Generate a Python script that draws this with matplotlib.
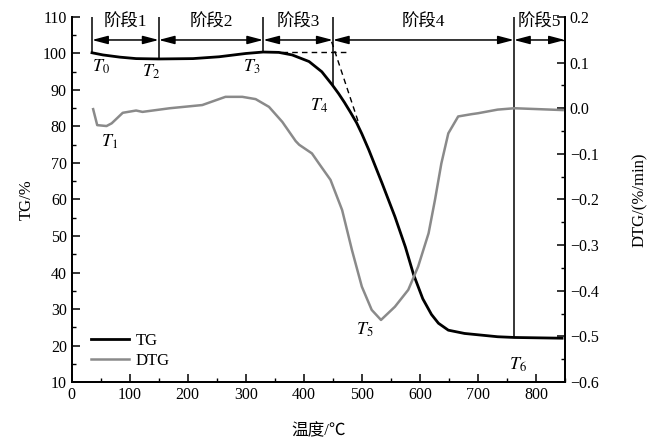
import numpy as np
import matplotlib
matplotlib.use("Agg")
import matplotlib.pyplot as plt
from matplotlib.ticker import MultipleLocator

plt.rcParams['font.family'] = ['Liberation Serif', 'Noto Sans CJK SC']
plt.rcParams['mathtext.fontset'] = 'stix'
plt.rcParams['axes.unicode_minus'] = True

# TG curve (temperature °C, mass %)
tg_temp = [35, 54, 83, 111, 150, 209, 254, 300, 330, 357, 380, 409, 431, 449,
           460, 470, 480, 491, 500, 512, 535, 557, 575, 589, 605, 620, 632, 649, 677, 734, 763, 845]
tg_val = [100.2, 99.6, 99.0, 98.6, 98.5, 98.6, 99.1, 100.0, 100.4, 100.3, 99.6, 97.8, 95.0, 91.4,
          89.0, 86.6, 84.0, 81.0, 78.0, 73.6, 64.4, 55.3, 47.0, 39.5, 32.8, 28.5, 26.1, 24.2,
          23.3, 22.4, 22.2, 22.0]

# DTG curve (temperature °C, %/min)
dtg_temp = [37, 44, 60, 69, 88, 111, 122, 169, 225, 265, 294, 317, 340, 363, 386, 392, 414, 426,
            446, 466, 483, 500, 517, 533, 557, 580, 597, 615, 626, 637, 649, 666, 689, 700,
            734, 763, 846]
dtg_val = [-0.002, -0.037, -0.039, -0.033, -0.010, -0.005, -0.008, 0.000, 0.007, 0.025, 0.025,
           0.020, 0.003, -0.030, -0.072, -0.080, -0.099, -0.121, -0.157, -0.223, -0.311, -0.391,
           -0.442, -0.464, -0.435, -0.398, -0.347, -0.274, -0.201, -0.121, -0.055, -0.018,
           -0.013, -0.011, -0.003, 0.000, -0.004]

# stage boundaries and TG value where the marker line stops
stage_x = [35, 150, 330, 450, 762, 850]
stage_tg = [100.2, 98.5, 100.4, 91.4, 22.2]
stage_names = ['阶段1', '阶段2', '阶段3', '阶段4', '阶段5']

# point labels
pt_names = ['$T_0$', '$T_1$', '$T_2$', '$T_3$', '$T_4$', '$T_5$', '$T_6$']
pt_x = [50, 66, 136, 311, 426, 505, 769]
pt_y = [96.3, 75.8, 94.9, 96.3, 85.6, 24.2, 14.7]

# tangent construction (dashed)
dash_h_x = [362, 472]
dash_h_y = [100.4, 100.4]
dash_s_x = [448, 494]
dash_s_y = [103.2, 81.2]

fig = plt.figure(figsize=(6.6, 4.47), dpi=100)
ax = fig.add_axes([0.1086, 0.1454, 0.7474, 0.8166])
ax2 = ax.twinx()

l1, = ax.plot(tg_temp, tg_val, color='black', lw=2.0, label='TG')
l2, = ax2.plot(dtg_temp, dtg_val, color='#8a8a8a', lw=1.8, label='DTG')

ax.vlines(stage_x[:-1], stage_tg, 110, color='black', lw=1.1)
ax.plot(dash_h_x, dash_h_y, color='black', lw=1.0, ls=(0, (4, 3)))
ax.plot(dash_s_x, dash_s_y, color='black', lw=1.0, ls=(0, (4, 3)))

for i, name in enumerate(stage_names):
    x0, x1 = stage_x[i], stage_x[i + 1]
    ax.annotate('', xy=(x1, 103.7), xytext=(x0, 103.7),
                arrowprops=dict(arrowstyle='<|-|>,head_length=0.95,head_width=0.25',
                                color='black', lw=1.1, shrinkA=0, shrinkB=0,
                                mutation_scale=10))
    ax.text((x0 + x1) / 2, 108.4, name, ha='center', va='center', fontsize=12.5)

for name, x, y in zip(pt_names, pt_x, pt_y):
    ax.text(x, y, name, ha='center', va='center', fontsize=13)

ax.set_xlim(0, 850)
ax.set_ylim(10, 110)
ax2.set_ylim(-0.6, 0.2)

ax.xaxis.set_major_locator(MultipleLocator(100))
ax.xaxis.set_minor_locator(MultipleLocator(50))
ax.yaxis.set_major_locator(MultipleLocator(10))
ax.yaxis.set_minor_locator(MultipleLocator(5))
ax2.yaxis.set_minor_locator(MultipleLocator(0.05))
dtg_ticks = np.round(np.arange(-0.6, 0.21, 0.1), 1)
ax2.set_yticks(dtg_ticks)
ax2.set_yticklabels([('%.1f' % abs(v)) if v >= 0 else '\u2212%.1f' % abs(v) for v in dtg_ticks])

for a in (ax, ax2):
    a.spines['top'].set_visible(False)
    for s in a.spines.values():
        s.set_linewidth(1.3)
    a.tick_params(which='major', direction='in', length=6, width=1.1, labelsize=11.5)
    a.tick_params(which='minor', direction='in', length=3, width=1.0)
ax.tick_params(axis='y', which='both', right=False)
ax.tick_params(axis='x', which='both', top=False)

ax.set_xlabel('温度/℃', fontsize=12, labelpad=15)
ax.set_ylabel('TG/%', fontsize=12, labelpad=6)
ax2.set_ylabel('DTG/(%/min)', fontsize=12, labelpad=24)

ax.legend([l1, l2], ['TG', 'DTG'], loc='lower left', bbox_to_anchor=(0.012, 0.0),
          frameon=False, fontsize=12, handlelength=2.3, handletextpad=0.4,
          labelspacing=0.25, borderpad=0.3)

fig.savefig('out.png', dpi=100)
